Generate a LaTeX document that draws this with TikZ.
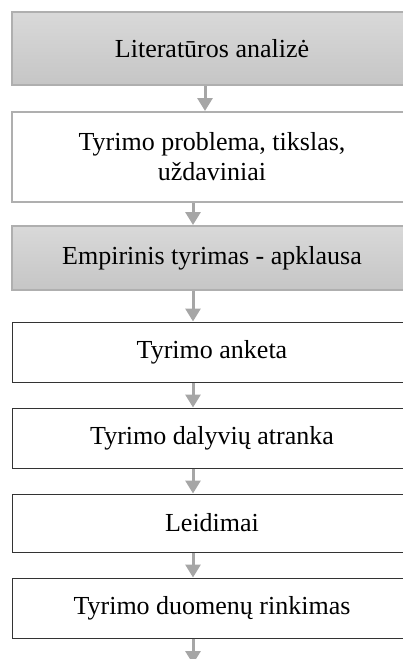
\documentclass[tikz,border=0pt]{standalone}
\usepackage{fontspec}
\setmainfont{Liberation Serif}
\usetikzlibrary{arrows.meta}
\definecolor{boxgray}{HTML}{AFAFAF}
\definecolor{arrowgray}{HTML}{A6A6A6}
\begin{document}
\begin{tikzpicture}
		[x=1pt,y=-1pt,
		 shaded/.style= {draw=boxgray,line width=2pt,top color=gray!30,bottom color=gray!45,
		 	minimum width=400pt,inner sep=0pt,font=\fontsize{26}{30}\selectfont,align=center},
		 plain/.style= {draw=boxgray,line width=2pt,fill=white,
		 	minimum width=400pt,inner sep=0pt,font=\fontsize{26}{30}\selectfont,align=center},
		 framed/.style= {draw=black!80,line width=1pt,fill=white,
		 	minimum width=400pt,inner sep=0pt,font=\fontsize{26}{30}\selectfont,align=center},
		 branch/.style= {draw=arrowgray,line width=3pt,-{Triangle[width=15pt,length=13pt]}}]
		
		\clip (0,0) rectangle (403,659);
		
		\node[shaded,minimum height=73pt] (lit) at (212,48.5) {Literatūros analizė};
		\node[plain,minimum height=90pt] (prob) at (212,157) {Tyrimo problema, tikslas,\\uždaviniai};
		\node[shaded,minimum height=64pt] (emp) at (212,258) {Empirinis tyrimas - apklausa};
		\node[framed,minimum height=60pt] (ank) at (212,352) {Tyrimo anketa};
		\node[framed,minimum height=60pt] (atr) at (212,438) {Tyrimo dalyvių atranka};
		\node[framed,minimum height=58pt] (leid) at (212,523) {Leidimai};
		\node[framed,minimum height=60pt] (rink) at (212,608) {Tyrimo duomenų rinkimas};
		\coordinate (end) at (193,664);
		
		\draw[branch] ([xshift=-7pt]lit.south) -- ([xshift=-7pt]prob.north);
		\draw[branch] ([xshift=-19pt]prob.south) -- ([xshift=-19pt]emp.north);
		\draw[branch] ([xshift=-19pt]emp.south) -- ([xshift=-19pt]ank.north);
		\draw[branch] ([xshift=-19pt]ank.south) -- ([xshift=-19pt]atr.north);
		\draw[branch] ([xshift=-19pt]atr.south) -- ([xshift=-19pt]leid.north);
		\draw[branch] ([xshift=-19pt]leid.south) -- ([xshift=-19pt]rink.north);
		\draw[branch] ([xshift=-19pt]rink.south) -- (end);
		
	\end{tikzpicture}
\end{document}
